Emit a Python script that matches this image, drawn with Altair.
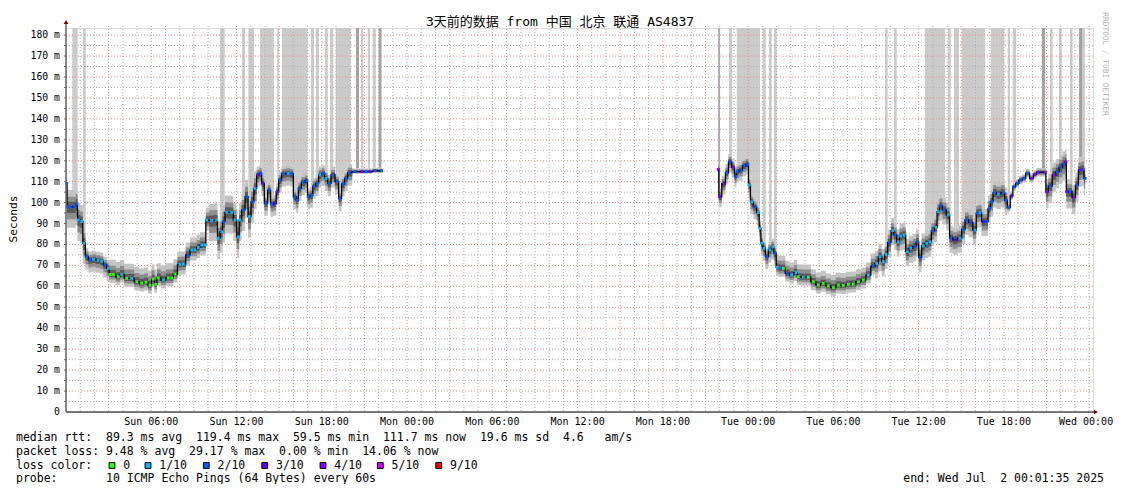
import altair as alt
import pandas as pd

# ---------------- data ----------------
# hours since Sun 00:00, median rtt (ms), loss class (tenths)
seg1_t = [0.05, 0.1, 0.28, 0.63, 0.75, 0.87, 1.1, 1.27, 1.46, 1.69, 1.92, 2.27, 2.51, 2.74, 2.98,
          3.10, 3.33, 3.68, 3.92, 4.27, 4.62, 4.98, 5.33, 5.63, 5.91, 6.14, 6.31, 6.5, 6.85, 7.2,
          7.44, 7.67, 8.02, 8.25, 8.6, 8.85, 9.08, 9.31, 9.55, 9.78, 9.9, 10.25, 10.6, 10.72, 10.96,
          11.07, 11.31, 11.66, 11.89, 12.13, 12.24, 12.48, 12.72, 12.9, 13.14, 13.3, 13.53, 13.7,
          13.84, 14.07, 14.31, 14.48, 14.71, 14.87, 15.06, 15.29, 15.64, 15.88, 16.12, 16.28, 16.42,
          16.7, 16.94, 17.05, 17.29, 17.45, 17.69, 17.87, 18.11, 18.3, 18.53, 18.77, 19.09, 19.28,
          19.51, 19.7, 19.94, 20.34, 20.83, 21.11, 21.39, 21.75, 22.22]
seg1_rtt = [109.2, 98.0, 98.0, 98.0, 99.3, 91.7, 91.0, 80.6, 74.2, 72.6, 73.0, 72.5, 72.0, 70.2, 68.6,
            65.7, 65.7, 64.6, 65.7, 63.8, 63.8, 62.2, 61.5, 62.0, 60.6, 63.5, 61.0, 64.0, 63.0, 64.0,
            64.0, 65.9, 70.5, 70.7, 75.0, 77.4, 77.4, 78.6, 79.8, 79.8, 91.7, 91.5, 91.7, 83.0, 86.1,
            91.0, 95.4, 95.3, 91.7, 83.7, 91.7, 96.5, 102.8, 93.3, 100.4, 106.8, 113.2, 114.0,
            109.2, 99.7, 106.0, 99.3, 99.7, 105.2, 110.8, 113.7, 114.0, 113.7, 102.8, 101.2, 106.8,
            109.7, 110.6, 102.8, 103.5, 107.9, 109.2, 113.2, 114.0, 111.6, 109.2, 113.2, 110.0, 102.0,
            108.9, 111.6, 114.3, 114.8, 114.8, 114.8, 114.8, 115.2, 115.2]
seg1_loss = [2, 2, 2, 2, 2, 1, 1, 1, 2, 2, 1, 1, 1, 2, 1,
             0, 0, 0, 1, 0, 1, 0, 0, 0, 0, 0, 0, 0, 1, 0,
             0, 0, 1, 1, 2, 1, 1, 1, 1, 1, 1, 1, 1, 1, 1,
             2, 1, 1, 1, 1, 1, 2, 2, 1, 2, 1, 3, 2,
             3, 2, 2, 2, 3, 3, 2, 2, 1, 2, 2, 2, 2,
             2, 2, 2, 2, 2, 2, 1, 2, 1, 2, 2, 2, 2,
             2, 2, 2, 2, 3, 2, 4, 2, 2]

seg2_t = [45.9, 45.98, 46.31, 46.5, 46.73, 46.96, 47.13, 47.24, 47.48, 47.73, 47.97, 48.08, 48.25,
          48.48, 48.72, 48.84, 48.96, 49.12, 49.31, 49.54, 49.73, 49.89, 50.06, 50.25, 50.48, 50.76,
          51.07, 51.37, 51.53, 51.89, 52.24, 52.59, 52.94, 53.29, 53.64, 54.0, 54.35, 54.7, 55.06,
          55.41, 55.76, 56.11, 56.46, 56.81, 57.05, 57.28, 57.52, 57.71, 57.94, 58.18, 58.34, 58.57,
          58.74, 58.97, 59.21, 59.44, 59.75, 59.91, 60.1, 60.33, 60.57, 60.8, 60.99, 61.22, 61.38,
          61.55, 61.79, 62.09, 62.26, 62.56, 62.91, 63.15, 63.38, 63.66, 63.97, 64.13, 64.32, 64.55,
          64.79, 64.98, 65.14, 65.33, 65.61, 65.96, 66.15, 66.34, 66.55, 66.71, 66.94, 67.18, 67.42,
          67.65, 67.96, 68.19, 68.42, 68.9, 69.01, 69.25, 69.55, 69.76, 70.0, 70.23, 70.37, 70.42,
          70.65, 70.94, 71.13, 71.36, 71.55, 71.72]
seg2_rtt = [115.9, 102.8, 108.9, 114.3, 119.5, 116.9, 112.4, 114.8, 115.5, 117.6, 118.4, 108.4, 100.4,
            98.0, 95.2, 87.7, 80.6, 78.2, 74.2, 77.4, 78.9, 75.8, 69.1, 68.6, 68.6, 66.2,
            65.4, 66.6, 64.6, 64.4, 64.4, 62.2, 60.6, 61.4, 60.2, 59.4, 60.6, 60.4, 61.0,
            61.1, 62.2, 63.0, 65.4, 69.7, 71.0, 74.2, 71.8, 75.3, 81.0, 86.6, 84.5, 81.3,
            84.0, 84.5, 76.6, 78.2, 79.0, 81.3, 73.9, 79.3, 80.5, 81.3, 86.6, 88.2, 95.7,
            98.4, 96.5, 94.1, 83.0, 82.2, 83.0, 87.2, 91.7, 90.5, 86.9, 94.9, 95.2, 90.9,
            91.0, 97.3, 100.4, 104.7, 104.0, 104.7, 101.2, 97.7, 103.2, 107.6, 109.2, 110.8, 111.6,
            114.0, 111.6, 113.5, 114.5, 114.5, 105.2, 107.9, 113.2, 114.8, 116.9, 118.4, 119.5, 105.2,
            105.2, 102.5, 108.4, 115.6, 116.0, 111.6]
seg2_loss = [4, 4, 4, 2, 2, 4, 2, 2, 2, 2, 2, 1, 1,
             2, 1, 1, 1, 1, 2, 1, 1, 2, 1, 2, 0, 2,
             1, 1, 0, 1, 0, 0, 0, 0, 0, 0, 0, 0, 0,
             0, 0, 0, 1, 2, 1, 1, 1, 1, 2, 1, 2, 1,
             1, 1, 1, 1, 2, 2, 2, 1, 1, 1, 2, 1, 1,
             2, 2, 1, 2, 3, 1, 2, 2, 2, 1, 2, 1, 3,
             2, 2, 2, 2, 1, 2, 2, 2, 3, 2, 2, 2, 2,
             2, 4, 4, 4, 4, 4, 2, 4, 2, 2, 2, 4, 4,
             2, 4, 2, 4, 2, 2]

# smoke spread (ms above / below the median), from each start hour on
smoke_from = [0, 1.3, 3.0, 8.0, 10.0, 13.5, 20.2, 45.8, 48.0, 50.0, 57.0, 66.3, 69.0]
smoke_up = [8, 4, 7, 6, 8, 4, 1.5, 4, 4, 6, 6, 2, 6]
smoke_dn = [10, 6, 4, 5, 10, 6, 1, 5, 6, 4, 7, 2, 8]

# packet-loss columns (start hour, end hour, shade)
loss_t0 = [0.44, 1.2, 10.84, 12.39, 12.83, 13.65, 14.87, 15.2, 17.24, 17.59, 18.23, 18.58, 18.98,
           20.41, 20.76, 21.23, 21.58, 22.0,
           45.9, 46.66, 47.2, 49.03, 49.47, 49.82, 57.64, 58.27, 60.45, 62.05, 62.49, 63.03, 65.07,
           66.27, 66.62, 68.68, 69.25, 69.88, 70.65, 71.29, 71.5]
loss_t1 = [0.82, 1.39, 11.17, 12.6, 13.23, 14.64, 14.99, 17.0, 17.45, 17.8, 18.42, 18.81, 20.03,
           20.62, 20.92, 21.39, 21.8, 22.2,
           46.02, 46.87, 48.84, 49.24, 49.66, 50.01, 57.82, 58.46, 61.86, 62.26, 62.84, 64.67, 66.03,
           66.43, 66.86, 68.9, 69.43, 70.07, 70.84, 71.5, 71.7]
loss_shade = ["light"] * 13 + ["dark", "light", "light", "light", "dark",
              "dark"] + ["light"] * 14 + ["dark", "light", "light", "light", "dark", "light"]

loss_classes = [0, 1, 2, 3, 4, 5, 9]
loss_labels = ["0", "1/10", "2/10", "3/10", "4/10", "5/10", "9/10"]
loss_colors = ["#26ff00", "#00b8ff", "#0059ff", "#5e00ff", "#7e00ff", "#dd00ff", "#ff0000"]

y_tick_values = list(range(0, 181, 10))
y_tick_labels = ["0\u00a0\u00a0"] + ["%d\u00a0m" % v for v in range(10, 181, 10)]

x_label_hours = [6, 12, 18, 24, 30, 36, 42, 48, 54, 60, 66, 72]
x_labels = ["Sun 06:00", "Sun 12:00", "Sun 18:00", "Mon 00:00", "Mon 06:00", "Mon 12:00",
            "Mon 18:00", "Tue 00:00", "Tue 06:00", "Tue 12:00", "Tue 18:00", "Wed 00:00"]

title_text = "3天前的数据 from 中国 北京 联通 AS4837"
legend_lines = [
    "median rtt:  89.3 ms avg  119.4 ms max  59.5 ms min  111.7 ms now  19.6 ms sd  4.6   am/s",
    "packet loss: 9.48 % avg  29.17 % max  0.00 % min  14.06 % now",
    "loss color:",
    "probe:       10 ICMP Echo Pings (64 Bytes) every 60s",
]
end_text = "end: Wed Jul  2 00:01:35 2025"

# ---------------- layout ----------------
YMAX = 183.4
XMAX = 72.27
W, H = 1027, 384
OX, OY = 66, 28  # plot origin on the page
MONO = "DejaVu Sans Mono"


def smoke_lookup(t, arr):
    v = arr[0]
    for s, a in zip(smoke_from, arr):
        if t >= s:
            v = a
    return v


rows = []
for seg, (ts, rs, ls) in enumerate([(seg1_t, seg1_rtt, seg1_loss), (seg2_t, seg2_rtt, seg2_loss)]):
    for t, r, l in zip(ts, rs, ls):
        up = smoke_lookup(t, smoke_up)
        dn = smoke_lookup(t, smoke_dn)
        rows.append(dict(t=t, rtt=r, loss=l, seg=seg,
                         hi=r + up, lo=r - dn,
                         hi2=r + up * 0.6, lo2=r - dn * 0.6,
                         hi3=r + up * 0.3, lo3=r - dn * 0.3, zero=0.0))
df = pd.DataFrame(rows)

bars = pd.DataFrame(dict(t0=loss_t0, t1=loss_t1, shade=loss_shade, top=YMAX, bot=0.0))

xs = alt.Scale(domain=[0, XMAX], nice=False, zero=False)
ys = alt.Scale(domain=[0, YMAX], nice=False, zero=False)


def X(f):
    return alt.X(f, type="quantitative", scale=xs, axis=None)


def Y(f):
    return alt.Y(f, type="quantitative", scale=ys, axis=None)


bar_light = alt.Chart(bars[bars.shade == "light"]).mark_rect(color="#cbcbcb").encode(
    x=X("t0"), x2="t1", y=Y("top"), y2="bot")
bar_dark = alt.Chart(bars[bars.shade == "dark"]).mark_rect(color="#a2a2a2").encode(
    x=X("t0"), x2="t1", y=Y("top"), y2="bot")

white_layer = alt.Chart(df).mark_area(interpolate="step", color="white", opacity=1).encode(
    x=X("t"), y=Y("hi"), y2="zero", detail="seg:N")

grid_minor_x = pd.DataFrame(dict(h=[h for h in range(1, 73) if h % 3 != 0]))
grid_major_x = pd.DataFrame(dict(h=[h for h in range(3, 73, 3)]))
grid_minor_y = pd.DataFrame(dict(v=[v + 5 for v in range(0, 180, 10)]))
grid_major_y = pd.DataFrame(dict(v=list(range(10, 181, 10))))

GRID = "#b0b0b0"
MGRID = "#f08a8a"
g1 = alt.Chart(grid_minor_x).mark_rule(color=GRID, strokeDash=[1, 2], strokeWidth=1).encode(
    x=X("h"), y=alt.value(-2), y2=alt.value(H))
g2 = alt.Chart(grid_minor_y).mark_rule(color=GRID, strokeDash=[1, 2], strokeWidth=1).encode(
    y=Y("v"), x=alt.value(0), x2=alt.value(W))
g3 = alt.Chart(grid_major_x).mark_rule(color=MGRID, strokeDash=[1, 2], strokeWidth=1).encode(
    x=X("h"), y=alt.value(-2), y2=alt.value(H))
g4 = alt.Chart(grid_major_y).mark_rule(color=MGRID, strokeDash=[1, 2], strokeWidth=1).encode(
    y=Y("v"), x=alt.value(0), x2=alt.value(W))

smoke1 = alt.Chart(df).mark_area(interpolate="step", color="#c4c4c4").encode(
    x=X("t"), y=Y("hi"), y2="lo", detail="seg:N")
smoke2 = alt.Chart(df).mark_area(interpolate="step", color="#8e8e8e").encode(
    x=X("t"), y=Y("hi2"), y2="lo2", detail="seg:N")
smoke3 = alt.Chart(df).mark_area(interpolate="step", color="#5a5a5a").encode(
    x=X("t"), y=Y("hi3"), y2="lo3", detail="seg:N")

median_line = alt.Chart(df).mark_line(interpolate="step", color="black", strokeWidth=1.3).encode(
    x=X("t"), y=Y("rtt"), detail="seg:N")

loss_pts = alt.Chart(df).mark_square(size=8, opacity=1).encode(
    x=X("t"), y=Y("rtt"),
    fill=alt.Fill("loss:O", scale=alt.Scale(domain=loss_classes, range=loss_colors), legend=None))

# axes drawn from the scales
x_axis_line = alt.Chart(pd.DataFrame(dict(a=[0]))).mark_rule(color="black", strokeWidth=1).encode(
    x=alt.value(0), x2=alt.value(W + 1), y=alt.value(H))
y_axis_line = alt.Chart(pd.DataFrame(dict(a=[0]))).mark_rule(color="#666666", strokeWidth=1.5).encode(
    x=alt.value(0), y=alt.value(-4), y2=alt.value(H))
y_ticks = alt.Chart(pd.DataFrame(dict(v=list(range(5, 181, 5))))).mark_rule(
    color="#666666", strokeWidth=1).encode(y=Y("v"), x=alt.value(-2), x2=alt.value(0))
y_labels = alt.Chart(pd.DataFrame(dict(v=y_tick_values, lab=y_tick_labels))).mark_text(
    font=MONO, fontSize=9.8, color="black", baseline="middle", align="right").encode(
    y=Y("v"), x=alt.value(-6), text="lab:N")
xl_df = pd.DataFrame(dict(h=x_label_hours, lab=x_labels))
x_labels_layer = alt.Chart(xl_df.iloc[:-1]).mark_text(
    font=MONO, fontSize=10, color="black", baseline="middle", align="center").encode(
    x=X("h"), y=alt.value(H + 10), text="lab:N")
# the last label would run past the page edge: anchor it at its right end
x_label_last = alt.Chart(xl_df.iloc[-1:]).mark_text(
    font=MONO, fontSize=10, color="black", baseline="middle", align="right", dx=24).encode(
    x=X("h"), y=alt.value(H + 10), text="lab:N")


def text(s, x, y, **kw):
    opts = dict(font=MONO, fontSize=11.5, color="black", baseline="middle", align="left")
    opts.update(kw)
    return alt.Chart(pd.DataFrame(dict(s=[s]))).mark_text(**opts).encode(
        text="s:N", x=alt.value(x), y=alt.value(y))


def nb(s):
    return s.replace(" ", "\u00a0")


line_y = [438, 452, 465.5, 478.5]
texts = [
    text(nb(title_text), 560 - OX, 22 - OY, fontSize=13, align="center",
         font="DejaVu Sans Mono, Noto Sans CJK SC"),
    text("Seconds", 14 - OX, 219 - OY, angle=270, align="center", fontSize=11.2),
    text("RRDTOOL / TOBI OETIKER", 1105 - OX, 64 - OY, angle=90, align="center",
         fontSize=7.8, color="#b4b4b4"),
    text(nb(end_text), 1104 - OX, line_y[3] - OY, align="right"),
]
for i, line in enumerate(legend_lines):
    texts.append(text(nb(line), 16 - OX, line_y[i] - OY))

sq_centers = [112, 148, 206.3, 264.7, 323, 380.3, 438.7]
leg_df = pd.DataFrame(dict(lab=loss_labels, col=loss_colors,
                           sx=[c - OX for c in sq_centers],
                           lx=[c + 11.3 - OX for c in sq_centers]))
leg_sq = alt.Chart(leg_df).mark_square(size=34, stroke="black", strokeWidth=1, opacity=1).encode(
    x=alt.X("sx:Q", scale=None), y=alt.value(line_y[2] - OY), fill=alt.Fill("col:N", scale=None))
leg_tx = alt.Chart(leg_df).mark_text(font=MONO, fontSize=11.5, baseline="middle", align="left",
                                     color="black").encode(
    x=alt.X("lx:Q", scale=None), y=alt.value(line_y[2] - OY), text="lab:N")

arrows = [
    alt.Chart(pd.DataFrame(dict(a=[0]))).mark_point(shape="triangle-up", filled=True, size=22,
                                                     color="#800000", opacity=1).encode(
        x=alt.value(0), y=alt.value(-6)),
    alt.Chart(pd.DataFrame(dict(a=[0]))).mark_point(shape="triangle-right", filled=True, size=22,
                                                     color="#800000", opacity=1).encode(
        x=alt.value(W + 3), y=alt.value(H)),
]

chart = alt.layer(
    bar_light, bar_dark, white_layer, g1, g2, g3, g4, smoke1, smoke2, smoke3, median_line, loss_pts,
    x_axis_line, y_axis_line, y_ticks, y_labels, x_labels_layer, x_label_last, leg_sq, leg_tx,
    *texts, *arrows
).properties(
    width=W, height=H,
    autosize=alt.AutoSizeParams(type="none"),
    padding={"left": OX - 8, "top": OY - 8, "right": 20, "bottom": 72},
).configure_view(strokeWidth=0).configure(background="white")

chart.save("out.html", embed_options={"renderer": "svg", "actions": False})
